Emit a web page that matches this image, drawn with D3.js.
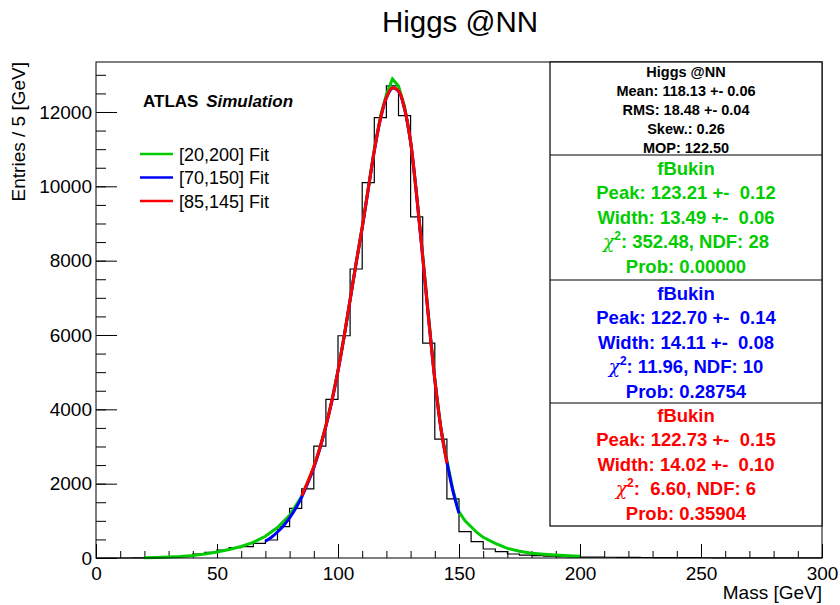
<!DOCTYPE html>
<html>
<head>
<meta charset="utf-8">
<script src="https://cdn.jsdelivr.net/npm/d3@7"></script>
<style>
  body { margin: 0; background: #fff; }
  svg { font-family: "Liberation Sans", Arial, sans-serif; }
  svg text { white-space: pre; }
</style>
</head>
<body>
<div id="chart"></div>
<script>
// histogram: 5 GeV bins from 0 to 300
var binWidth = 5;
var counts = [0,0,0,2,8,15,30,55,108,152,
  215,278,305,395,484,842,1337,1860,3010,4270,
  5980,7775,10100,11850,12700,11900,9180,5780,3200,1590,
  710,440,242,170,108,80,62,48,38,30,
  26,22,20,17,15,13,12,10,9,8,
  7,6,5,5,4,4,3,3,2,2];

// fit curves
var greenMass = [20,25,30,35,40,45,50,55,60,65,70,75,80,85,
  87.5,90,92.5,95,97.5,100,102.5,105,107.5,110,112.5,115,117.5,120,122.5,125,127.5,130,132.5,135,137.5,140,142.5,145,147.5,150,152.5,155,157.5,160,
  165,170,175,180,185,190,195,200];
var greenVal = [6,12,24,42,70,110,160,230,310,420,585,820,1150,1660,
  2040,2450,2960,3560,4250,5050,5950,6950,7950,8900,9950,11000,11870,12470,12890,12700,12150,11200,9780,8150,6450,4820,3500,2620,1830,1240,1000,840,680,556,
  395,260,180,125,100,80,62,50];
var blueMass = [70,72.5,75,77.5,80,82.5,85,87.5,90,92.5,95,97.5,100,102.5,105,107.5,110,112.5,115,117.5,120,122.5,125,127.5,130,132.5,135,137.5,140,142.5,145,147.5,150];
var blueVal = [450,560,700,870,1080,1330,1640,2010,2430,2940,3540,4230,5030,5940,6940,7930,8880,9920,10950,11800,12380,12640,12560,12080,11200,9750,8100,6400,4800,3500,2580,1800,1200];
var redMass = [85,87.5,90,92.5,95,97.5,100,102.5,105,107.5,110,112.5,115,117.5,120,122.5,125,127.5,130,132.5,135,137.5,140,142.5,145];
var redVal = [1680,2050,2460,2960,3560,4240,5040,5950,6950,7940,8890,9930,10960,11810,12390,12650,12570,12090,11200,9750,8100,6400,4800,3500,2550];

var legendLabels = ["[20,200] Fit", "[70,150] Fit", "[85,145] Fit"];
var statsLines = ["Higgs @NN", "Mean: 118.13 +- 0.06", "RMS: 18.48 +- 0.04", "Skew.: 0.26", "MOP: 122.50"];
var fitPeak = ["Peak: 123.21 +-  0.12", "Peak: 122.70 +-  0.14", "Peak: 122.73 +-  0.15"];
var fitWidth = ["Width: 13.49 +-  0.06", "Width: 14.11 +-  0.08", "Width: 14.02 +-  0.10"];
var fitChi = [": 352.48, NDF: 28", ": 11.96, NDF: 10", ":  6.60, NDF: 6"];
var fitProb = ["Prob: 0.00000", "Prob: 0.28754", "Prob: 0.35904"];
var colors = ["#00cc00", "#0000ff", "#ff0000"];

var width = 840, height = 605;
var frame = {left: 96, right: 822, top: 62, bottom: 558};

var svg = d3.select("#chart").append("svg")
  .attr("width", width).attr("height", height);

var x_scale = d3.scaleLinear().domain([0, 300]).range([frame.left, frame.right]);
var y_scale = d3.scaleLinear().domain([0, 13345]).range([frame.bottom, frame.top]);

// title
svg.append("text").attr("x", 460).attr("y", 32).attr("text-anchor", "middle")
  .style("font-size", "29.5px").text("Higgs @NN");

// axes: minor ticks first, then majors with labels
svg.append("g").attr("transform", "translate(0," + frame.bottom + ")")
  .call(d3.axisBottom(x_scale).tickValues(d3.range(0, 301, 10)).tickSize(-7).tickFormat(""))
  .call(g => g.select(".domain").remove());
svg.append("g").attr("transform", "translate(0," + frame.bottom + ")")
  .call(d3.axisBottom(x_scale).tickValues(d3.range(0, 301, 50)).tickSize(-14).tickPadding(9).tickFormat(d3.format("d")))
  .call(g => g.select(".domain").remove())
  .call(g => g.selectAll("text").style("font-size", "19px").attr("fill", "#000"));

svg.append("g").attr("transform", "translate(" + frame.left + ",0)")
  .call(d3.axisLeft(y_scale).tickValues(d3.range(0, 13001, 500)).tickSize(-10).tickFormat(""))
  .call(g => g.select(".domain").remove());
svg.append("g").attr("transform", "translate(" + frame.left + ",0)")
  .call(d3.axisLeft(y_scale).tickValues(d3.range(0, 12001, 2000)).tickSize(-21).tickPadding(4).tickFormat(d3.format("d")))
  .call(g => g.select(".domain").remove())
  .call(g => g.selectAll("text").style("font-size", "19px").attr("fill", "#000"));

svg.selectAll(".tick line").attr("stroke", "#000");

// axis titles
svg.append("text").attr("transform", "translate(25," + frame.top + ") rotate(-90)")
  .attr("text-anchor", "end").style("font-size", "19px").text("Entries / 5 [GeV]");
svg.append("text").attr("x", frame.right).attr("y", 599).attr("text-anchor", "end")
  .style("font-size", "19px").text("Mass [GeV]");

// histogram outline
var histPts = counts.map((c, i) => [i * binWidth, c]);
histPts.push([300, counts[counts.length - 1]]);
var stepLine = d3.line().x(d => x_scale(d[0])).y(d => y_scale(d[1])).curve(d3.curveStepAfter);
svg.append("path").datum(histPts).attr("d", stepLine)
  .attr("fill", "none").attr("stroke", "#000").attr("stroke-width", 1.2);

// fits
var fitLine = d3.line().x(d => x_scale(d[0])).y(d => y_scale(d[1]));
svg.append("path").datum(d3.zip(greenMass, greenVal)).attr("d", fitLine.curve(d3.curveLinear))
  .attr("fill", "none").attr("stroke", colors[0]).attr("stroke-width", 3);
svg.append("path").datum(d3.zip(blueMass, blueVal)).attr("d", fitLine.curve(d3.curveCatmullRom))
  .attr("fill", "none").attr("stroke", colors[1]).attr("stroke-width", 3);
svg.append("path").datum(d3.zip(redMass, redVal)).attr("d", fitLine.curve(d3.curveCatmullRom))
  .attr("fill", "none").attr("stroke", colors[2]).attr("stroke-width", 3);

// frame
svg.append("rect").attr("x", frame.left).attr("y", frame.top)
  .attr("width", frame.right - frame.left).attr("height", frame.bottom - frame.top)
  .attr("fill", "none").attr("stroke", "#000").attr("stroke-width", 1);

// ATLAS label + legend
var atlas = svg.append("text").attr("x", 143).attr("y", 107)
  .style("font-size", "17px").style("font-weight", "bold");
atlas.append("tspan").text("ATLAS");
atlas.append("tspan").attr("dx", 3).style("font-style", "italic").text(" Simulation");

legendLabels.forEach(function(lab, i) {
  var yy = 154 + i * 23.5;
  svg.append("line").attr("x1", 140).attr("x2", 173).attr("y1", yy).attr("y2", yy)
    .attr("stroke", colors[i]).attr("stroke-width", 2.5);
  svg.append("text").attr("x", 179).attr("y", yy + 6.5).style("font-size", "18px").text(lab);
});

// stats box
var box = {left: 550, right: 822, top: 62, bottom: 526};
var cx = (box.left + box.right) / 2;
var sectionTops = [155, 280, 403];
svg.append("rect").attr("x", box.left).attr("y", box.top)
  .attr("width", box.right - box.left).attr("height", box.bottom - box.top)
  .attr("fill", "#fff").attr("stroke", "#000").attr("stroke-width", 1.2);
sectionTops.forEach(function(t) {
  svg.append("line").attr("x1", box.left).attr("x2", box.right).attr("y1", t).attr("y2", t)
    .attr("stroke", "#000").attr("stroke-width", 1.2);
});
statsLines.forEach(function(s, i) {
  svg.append("text").attr("x", cx).attr("y", 77 + i * 19).attr("text-anchor", "middle")
    .style("font-size", "14.5px").style("font-weight", "bold").text(s);
});
[0, 1, 2].forEach(function(k) {
  var base = [174.5, 299.5, 421.5][k];
  var g = svg.append("g").attr("fill", colors[k]).style("font-size", "18.5px")
    .style("font-weight", "bold").attr("text-anchor", "middle");
  g.append("text").attr("x", cx).attr("y", base).text("fBukin");
  g.append("text").attr("x", cx).attr("y", base + 24.5).text(fitPeak[k]);
  g.append("text").attr("x", cx).attr("y", base + 49).text(fitWidth[k]);
  var chi = g.append("text").attr("x", cx).attr("y", base + 73.5);
  chi.append("tspan").style("font-weight", "normal").style("font-family", "'DejaVu Serif', serif")
    .style("font-style", "italic").text("\u03c7");
  chi.append("tspan").attr("dy", -8).style("font-size", "12px").text("2");
  chi.append("tspan").attr("dy", 8).text(fitChi[k]);
  g.append("text").attr("x", cx).attr("y", base + 98).text(fitProb[k]);
});
</script>
</body>
</html>
